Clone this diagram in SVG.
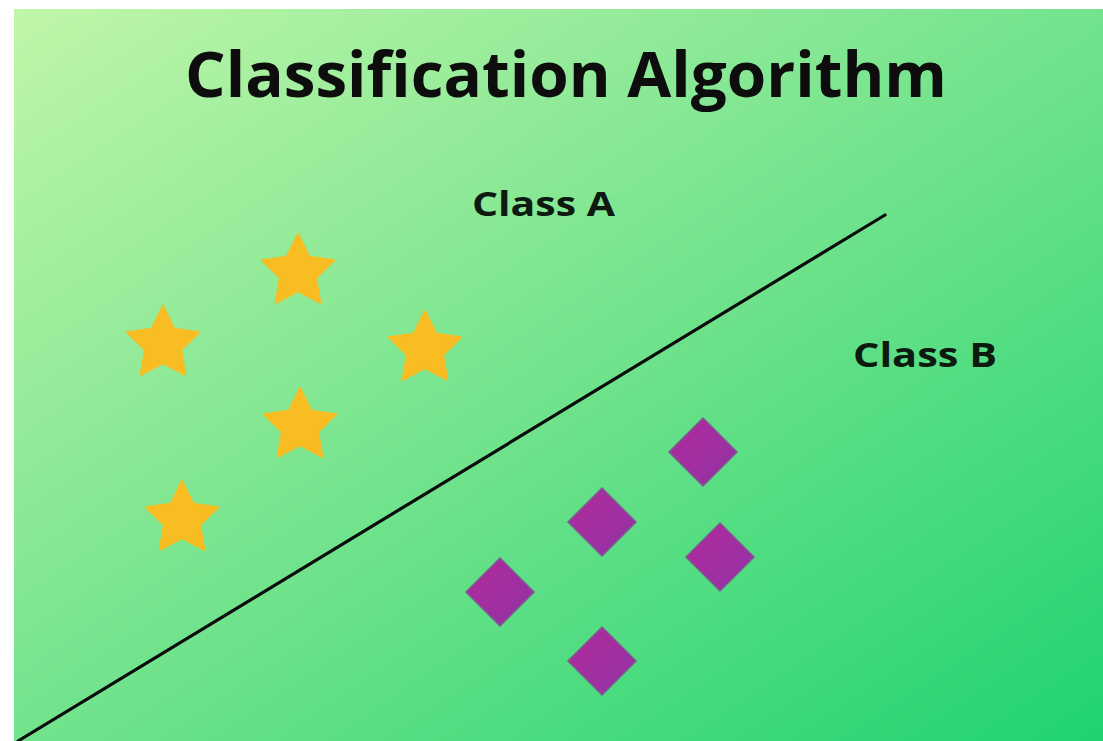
<svg xmlns="http://www.w3.org/2000/svg" width="1103" height="741" viewBox="0 0 1103 741">
  <defs>
    <linearGradient id="bg" x1="0" y1="0" x2="1" y2="1" gradientUnits="objectBoundingBox">
      <stop offset="0" stop-color="#C0F6AA"/>
      <stop offset="0.45" stop-color="#7BE590"/>
      <stop offset="1" stop-color="#20D370"/>
    </linearGradient>
    <linearGradient id="dia" x1="0" y1="0" x2="1" y2="1">
      <stop offset="0" stop-color="#B02A9A"/>
      <stop offset="1" stop-color="#9233A6"/>
    </linearGradient>
    <polygon id="star" points="0,-38 11.17,-15.37 36.14,-11.74 18.07,5.87 22.34,30.74 0,19 -22.34,30.74 -18.07,5.87 -36.14,-11.74 -11.17,-15.37"/>
    <polygon id="diamond" points="0,-34 34,0 0,34 -34,0"/>
  </defs>
  <style>
    .title { font-family: "Open Sans", "Liberation Sans", sans-serif; font-weight: 700; font-size: 63px; fill: #0d0d0d; }
    .lbl { font-family: "Open Sans", "Liberation Sans", sans-serif; font-weight: 700; font-size: 34px; fill: #0d1a0f; }
    .star { fill: #F8BD22; stroke: #F8BD22; stroke-width: 2; stroke-linejoin: round; }
    .dm { fill: url(#dia); stroke: #7E5C8E; stroke-width: 1.5; }
    .boundary { stroke: #0b0b0b; stroke-width: 3.2; stroke-linecap: round; fill: none; }
  </style>
  <rect x="0" y="0" width="1103" height="741" fill="#ffffff"/>
  <rect x="14" y="9" width="1089" height="732" fill="url(#bg)"/>

  <g id="title"><text class="title" x="185" y="97" textLength="762" lengthAdjust="spacingAndGlyphs">Classification Algorithm</text></g>
  <g id="label-class-a"><text class="lbl" x="472" y="216" textLength="143" lengthAdjust="spacingAndGlyphs">Class A</text></g>
  <g id="label-class-b"><text class="lbl" x="853" y="367" textLength="144" lengthAdjust="spacingAndGlyphs">Class B</text></g>

  <g id="connectors">
    <line class="boundary" x1="18" y1="741" x2="885" y2="215"/>
  </g>

  <g id="star-1"><use href="#star" class="star" transform="translate(298,272)"/></g>
  <g id="star-2"><use href="#star" class="star" transform="translate(163,344)"/></g>
  <g id="star-3"><use href="#star" class="star" transform="translate(425,349)"/></g>
  <g id="star-4"><use href="#star" class="star" transform="translate(300,426)"/></g>
  <g id="star-5"><use href="#star" class="star" transform="translate(182,519)"/></g>

  <g id="diamond-1"><use href="#diamond" class="dm" transform="translate(703,452)"/></g>
  <g id="diamond-2"><use href="#diamond" class="dm" transform="translate(602,522)"/></g>
  <g id="diamond-3"><use href="#diamond" class="dm" transform="translate(720,557)"/></g>
  <g id="diamond-4"><use href="#diamond" class="dm" transform="translate(500,592)"/></g>
  <g id="diamond-5"><use href="#diamond" class="dm" transform="translate(602,661)"/></g>
</svg>
